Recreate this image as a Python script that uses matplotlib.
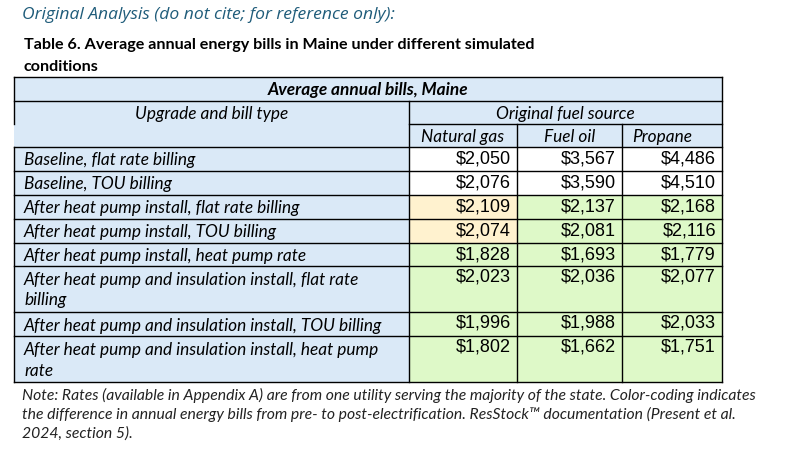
import matplotlib.pyplot as plt
from matplotlib.patches import Rectangle

# data
row_labels = [
    "Baseline, flat rate billing",
    "Baseline, TOU billing",
    "After heat pump install, flat rate billing",
    "After heat pump install, TOU billing",
    "After heat pump install, heat pump rate",
    "After heat pump and insulation install, flat rate\nbilling",
    "After heat pump and insulation install, TOU billing",
    "After heat pump and insulation install, heat pump\nrate",
]
fuels = ["Natural gas", "Fuel oil", "Propane"]
natural_gas = [2050, 2076, 2109, 2074, 1828, 2023, 1996, 1802]
fuel_oil = [3567, 3590, 2137, 2081, 1693, 2036, 1988, 1662]
propane = [4486, 4510, 2168, 2116, 1779, 2077, 2033, 1751]
n_baseline = 2

title = "Original Analysis (do not cite; for reference only):"
caption = ["Table 6. Average annual energy bills in Maine under different simulated",
           "conditions"]
note = ["Note: Rates (available in Appendix A) are from one utility serving the majority of the state. Color-coding indicates",
        "the difference in annual energy bills from pre- to post-electrification. ResStock\u2122 documentation (Present et al.",
        "2024, section 5)."]

BLUE = "#dae9f7"
TAN = "#fff2cf"
GREEN = "#def9c8"
WHITE = "#ffffff"

# layout in pixels
x_edges = [14, 409, 517, 622, 722]
top = 77
head_rows = [101, 124, 147]
row_h = [24, 24, 24, 24, 23, 46, 24, 46]

fig = plt.figure(figsize=(7.9, 4.63), dpi=100)
ax = fig.add_axes([0, 0, 1, 1])
ax.set_xlim(0, 790)
ax.set_ylim(463, 0)
ax.axis("off")

lab_font = "Lato"
num_font = "Liberation Sans"
fs = 12.4
lw = 1.0
dy = 1.5  # nudge for italic labels

ax.text(22, 15, title, fontsize=12.6, style="italic", color="#1f5c7a",
        family="Open Sans", va="center", ha="left")
for i, line in enumerate(caption):
    ax.text(24, 45 + 22 * i, line, fontsize=11.6, weight="bold", color="black",
            family=lab_font, va="center", ha="left")

# header fill
ax.add_patch(Rectangle((x_edges[0], top), x_edges[-1] - x_edges[0], head_rows[2] - top,
                       facecolor=BLUE, edgecolor="none"))

ax.text((x_edges[0] + x_edges[-1]) / 2, (top + head_rows[0]) / 2 + dy, "Average annual bills, Maine",
        fontsize=fs, weight="bold", style="italic", family=lab_font, ha="center", va="center")
ax.text((x_edges[0] + x_edges[1]) / 2, (head_rows[0] + head_rows[1]) / 2 + dy, "Upgrade and bill type",
        fontsize=fs, style="italic", family=lab_font, ha="center", va="center")
ax.text((x_edges[1] + x_edges[-1]) / 2, (head_rows[0] + head_rows[1]) / 2 + dy, "Original fuel source",
        fontsize=fs, style="italic", family=lab_font, ha="center", va="center")
for i, f in enumerate(fuels):
    yc = (head_rows[1] + head_rows[2]) / 2 + dy
    if i < 2:
        ax.text((x_edges[i + 1] + x_edges[i + 2]) / 2, yc, f, fontsize=fs, style="italic",
                family=lab_font, ha="center", va="center")
    else:
        ax.text(x_edges[i + 1] + 10, yc, f, fontsize=fs, style="italic",
                family=lab_font, ha="left", va="center")

# body
columns = [natural_gas, fuel_oil, propane]
y = head_rows[2]
row_tops = []
for r, label in enumerate(row_labels):
    h = row_h[r]
    row_tops.append(y)
    ax.add_patch(Rectangle((x_edges[0], y), x_edges[1] - x_edges[0], h, facecolor=BLUE, edgecolor="none"))
    for j, part in enumerate(label.split("\n")):
        ax.text(x_edges[0] + 10, y + 12 + dy + 21 * j, part, fontsize=fs, style="italic",
                family=lab_font, ha="left", va="center")
    for c, col in enumerate(columns):
        v = col[r]
        if r < n_baseline:
            fc = WHITE
        elif v > col[0]:
            fc = TAN
        else:
            fc = GREEN
        ax.add_patch(Rectangle((x_edges[c + 1], y), x_edges[c + 2] - x_edges[c + 1], h,
                               facecolor=fc, edgecolor="none"))
        ax.text(x_edges[c + 2] - 6, y + 11.5, f"${v:,}", fontsize=13, family=num_font,
                ha="right", va="center")
    y += h
bottom = y

# grid lines
k = dict(color="black", lw=lw, solid_capstyle="projecting")
ax.plot([x_edges[0], x_edges[-1]], [top, top], **k)
ax.plot([x_edges[0], x_edges[-1]], [head_rows[0], head_rows[0]], **k)
ax.plot([x_edges[1], x_edges[-1]], [head_rows[1], head_rows[1]], **k)
for yy in row_tops + [bottom]:
    ax.plot([x_edges[0], x_edges[-1]], [yy, yy], **k)
ax.plot([x_edges[0], x_edges[0]], [top, head_rows[1]], **k)
ax.plot([x_edges[0], x_edges[0]], [head_rows[2], bottom], **k)
ax.plot([x_edges[-1], x_edges[-1]], [top, bottom], **k)
ax.plot([x_edges[1], x_edges[1]], [head_rows[0], bottom], **k)
for xx in x_edges[2:4]:
    ax.plot([xx, xx], [head_rows[1], bottom], **k)

for i, line in enumerate(note):
    ax.text(22, 394 + 19.5 * i + 1, line, fontsize=11.3, style="italic", family=lab_font,
            color="#222222", ha="left", va="center")

fig.savefig("out.png", dpi=100)
